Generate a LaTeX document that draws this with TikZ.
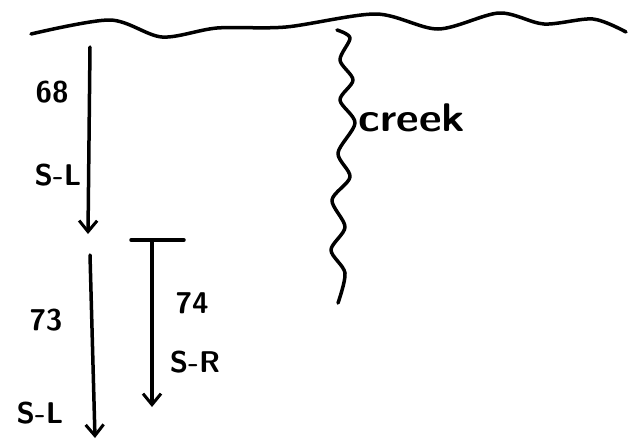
\documentclass[tikz,border=0pt]{standalone}
\usetikzlibrary{arrows.meta}
\begin{document}
\begin{tikzpicture}[x=1pt,y=-1pt,
    pen/.style={line width=3.5pt,line cap=round,line join=round},
    route/.style={pen,-{Straight Barb[length=11pt,width=18pt,line width=3pt]}},
    lbl/.style={font=\sffamily\bfseries\fontsize{30}{30}\selectfont,inner sep=0pt}]
    \useasboundingbox (0,0) rectangle (638,445);
    % shore line along the top
    \draw[pen] plot[smooth] coordinates {(31,34) (110,20) (162,37) (217,28) (286,27)
      (376,14) (438,29) (499,13) (544,24) (593,19) (626,32)};
    % creek
    \draw[pen] plot[smooth] coordinates {(337,30) (350,38) (340,60) (353,80) (340,100)
      (355,123) (338,153) (350,177) (332,200) (345,227) (331,250) (345,273) (338,303)};
    \node[lbl,font=\sffamily\bfseries\fontsize{40}{40}\selectfont,xscale=1.1] (creek) at (412,118) {creek};
    % routes: {name/start x/start y/end x/end y}
    \foreach \r/\xa/\ya/\xb/\yb in {68/90/47/88/234, 73/90/255/95/438, 74/152/241/152/407}{
      \coordinate (\r s) at (\xa,\ya);
      \coordinate (\r e) at (\xb,\yb);
      \draw[route] (\r s) -- (\r e);
    }
    % stop bar above 74
    \coordinate (bar w) at (131,240);
    \coordinate (bar e) at (184,240);
    \draw[pen] (bar w) -- (bar e);
    % labels: {text/x/y}
    \foreach \t/\x/\y [count=\i] in {68/52/92, S-L/58/175, 73/46/320, S-L/40/413, 74/192/303, S-R/195/362}
      \node[lbl] (lbl\i) at (\x,\y) {\t};
\end{tikzpicture}
\end{document}
